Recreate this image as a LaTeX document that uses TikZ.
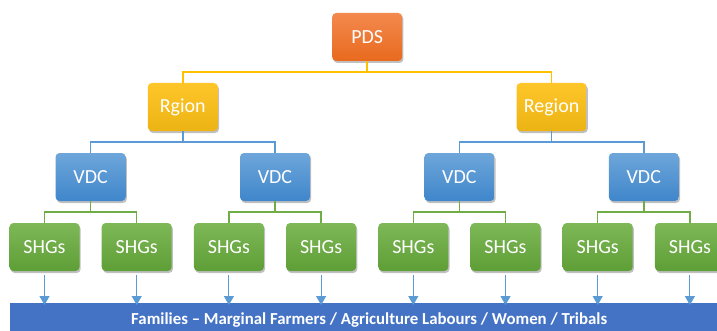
\documentclass[tikz,border=0pt]{standalone}
\usepackage{fontspec}
\setmainfont{Carlito}
\usetikzlibrary{shadows,arrows.meta}
\definecolor{orTop}{HTML}{F4894E}
\definecolor{orBot}{HTML}{E86A1E}
\definecolor{ylTop}{HTML}{FFC62A}
\definecolor{ylBot}{HTML}{EBB313}
\definecolor{blTop}{HTML}{6EA6DA}
\definecolor{blBot}{HTML}{3F86CB}
\definecolor{grTop}{HTML}{7EB857}
\definecolor{grBot}{HTML}{5E9E36}
\definecolor{lnY}{HTML}{FFC000}
\definecolor{lnB}{HTML}{5B9BD5}
\definecolor{lnG}{HTML}{70AD47}
\definecolor{barC}{HTML}{4472C4}
\tikzset{
  box/.style={rounded corners=4pt, minimum width=70pt, minimum height=48pt,
    inner sep=0pt, text=white, font=\fontsize{20}{24}\selectfont,
    drop shadow={shadow xshift=1.2pt, shadow yshift=-2pt, opacity=0.35, fill=black!70}},
  pdsbox/.style={box, top color=orTop, bottom color=orBot},
  regbox/.style={box, top color=ylTop, bottom color=ylBot},
  vdcbox/.style={box, top color=blTop, bottom color=blBot},
  shgbox/.style={box, top color=grTop, bottom color=grBot},
  yline/.style={draw=lnY, line width=1.5pt},
  bline/.style={draw=lnB, line width=1.5pt},
  gline/.style={draw=lnG, line width=1.5pt},
  farr/.style={draw=lnB, line width=1.1pt, -{Triangle[width=10pt,length=9pt]}},
}
\begin{document}
\begin{tikzpicture}[x=1pt,y=1pt]
\useasboundingbox (0,0) rectangle (717,330);
\clip (0,0) rectangle (717,330);
\fill[white] (0,0) rectangle (717,330);
% bar
\node[fill=barC, minimum width=718pt, minimum height=37pt, inner sep=0pt,
  text=white, font=\bfseries\fontsize{16.8}{18}\selectfont, anchor=north west,
  text depth=0pt] (bar) at (10,27) {\raisebox{7pt}{Families -- Marginal Farmers / Agriculture Labours / Women / Tribals}};
% nodes
\node[pdsbox] (pds) at (367.2,293) {PDS};
\node[regbox] (r1) at (182.8,223) {Rgion};
\node[regbox] (r2) at (551.6,223) {Region};
\node[vdcbox] (v1) at (90.6,153) {VDC};
\node[vdcbox] (v2) at (275.0,153) {VDC};
\node[vdcbox] (v3) at (459.4,153) {VDC};
\node[vdcbox] (v4) at (643.8,153) {VDC};
\node[shgbox] (s1) at (44.5,83) {SHGs};
\node[shgbox] (s2) at (136.7,83) {SHGs};
\node[shgbox] (s3) at (228.9,83) {SHGs};
\node[shgbox] (s4) at (321.1,83) {SHGs};
\node[shgbox] (s5) at (413.3,83) {SHGs};
\node[shgbox] (s6) at (505.5,83) {SHGs};
\node[shgbox] (s7) at (597.7,83) {SHGs};
\node[shgbox] (s8) at (689.9,83) {SHGs};
% connectors
\draw[yline] (pds.south) -- ++(0,-11) -| (r1.north);
\draw[yline] (pds.south) -- ++(0,-11) -| (r2.north);
\draw[bline] (r1.south) -- ++(0,-11) -| (v1.north);
\draw[bline] (r1.south) -- ++(0,-11) -| (v2.north);
\draw[bline] (r2.south) -- ++(0,-11) -| (v3.north);
\draw[bline] (r2.south) -- ++(0,-11) -| (v4.north);
\draw[gline] (v1.south) -- ++(0,-11) -| (s1.north);
\draw[gline] (v1.south) -- ++(0,-11) -| (s2.north);
\draw[gline] (v2.south) -- ++(0,-11) -| (s3.north);
\draw[gline] (v2.south) -- ++(0,-11) -| (s4.north);
\draw[gline] (v3.south) -- ++(0,-11) -| (s5.north);
\draw[gline] (v3.south) -- ++(0,-11) -| (s6.north);
\draw[gline] (v4.south) -- ++(0,-11) -| (s7.north);
\draw[gline] (v4.south) -- ++(0,-11) -| (s8.north);
% arrows
\foreach \s in {s1,s2,s3,s4,s5,s6,s7,s8}{
  \draw[farr] ([yshift=-4pt]\s.south) -- ([yshift=-2pt]\s.south |- bar.north);
}
\end{tikzpicture}
\end{document}
